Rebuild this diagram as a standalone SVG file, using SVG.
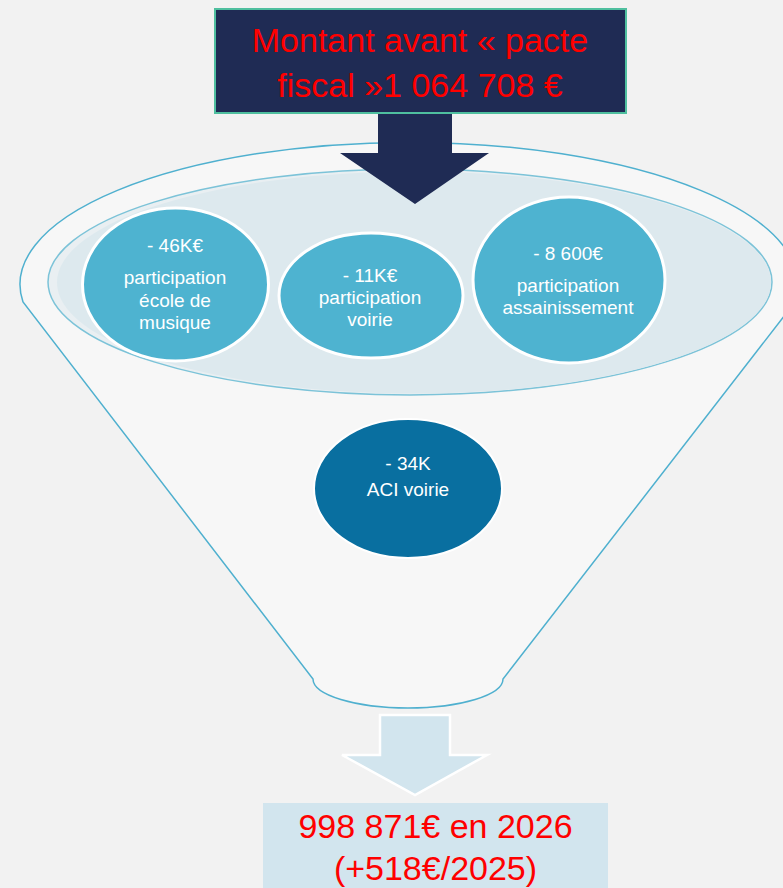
<svg xmlns="http://www.w3.org/2000/svg" width="783" height="888" viewBox="0 0 783 888">
<style>
.t{font-family:"Liberation Sans",Arial,sans-serif;text-anchor:middle}
.big{font-size:34px;fill:#ff0000}
.ct{font-size:19px;fill:#ffffff}
.bubble{fill:#4eb3d0;stroke:#ffffff;stroke-width:3}
.funnel{fill:#f7f7f7;stroke:#4fb0cf;stroke-width:1.5}
</style>
<rect width="783" height="888" fill="#f2f2f2"/>
<g id="funnel">
<path class="funnel" d="M23,302 A389,142 0 1 1 795,302 L503,679 A95,29 0 0 1 313,679 Z"/>
<ellipse cx="410" cy="282" rx="362" ry="113" fill="#e9eff2" stroke="#7cc3d8" stroke-width="1.5"/>
<ellipse cx="414" cy="282.5" rx="357" ry="111" fill="#dde9ee"/>
</g>
<g id="connectors">
<path d="M378,100 L452,100 L452,153 L489,153 L415,204 L340,153 L378,153 Z" fill="#1f2b54"/>
<path d="M380,715 L450,715 L450,755 L487,755 L415,795 L342,755 L380,755 Z" fill="#d2e5ee" stroke="#ffffff" stroke-width="2.5"/>
</g>
<g id="top-box">
<rect x="215" y="9" width="411" height="104" fill="#1f2b54" stroke="#4fbf9f" stroke-width="2"/>
<text class="t big" x="420" y="52">Montant avant « pacte</text>
<text class="t big" x="420" y="97">fiscal »1 064 708 €</text>
</g>
<g id="node-46k">
<ellipse class="bubble" cx="175.5" cy="284.5" rx="93" ry="76.5"/>
<text class="t ct" x="175" y="252">- 46K€</text>
<text class="t ct" x="175" y="284">participation</text>
<text class="t ct" x="175" y="307">école de</text>
<text class="t ct" x="175" y="329">musique</text>
</g>
<g id="node-11k">
<ellipse class="bubble" cx="371" cy="295.5" rx="92" ry="62.5"/>
<text class="t ct" x="370" y="282">- 11K€</text>
<text class="t ct" x="370" y="304">participation</text>
<text class="t ct" x="370" y="326">voirie</text>
</g>
<g id="node-8600">
<ellipse class="bubble" cx="569" cy="280" rx="96" ry="83"/>
<text class="t ct" x="568" y="260">- 8 600€</text>
<text class="t ct" x="568" y="292">participation</text>
<text class="t ct" x="568" y="314">assainissement</text>
</g>
<g id="node-34k">
<ellipse cx="408" cy="488.5" rx="94" ry="69.5" fill="#096fa0" stroke="#ffffff" stroke-width="2"/>
<text class="t ct" x="408" y="470">- 34K</text>
<text class="t ct" x="408" y="496">ACI voirie</text>
</g>
<g id="result-box">
<rect x="263" y="803" width="345" height="90" fill="#d2e5ee"/>
<text class="t big" x="435.5" y="838">998 871€ en 2026</text>
<text class="t big" x="435.5" y="880">(+518€/2025)</text>
</g>
</svg>
